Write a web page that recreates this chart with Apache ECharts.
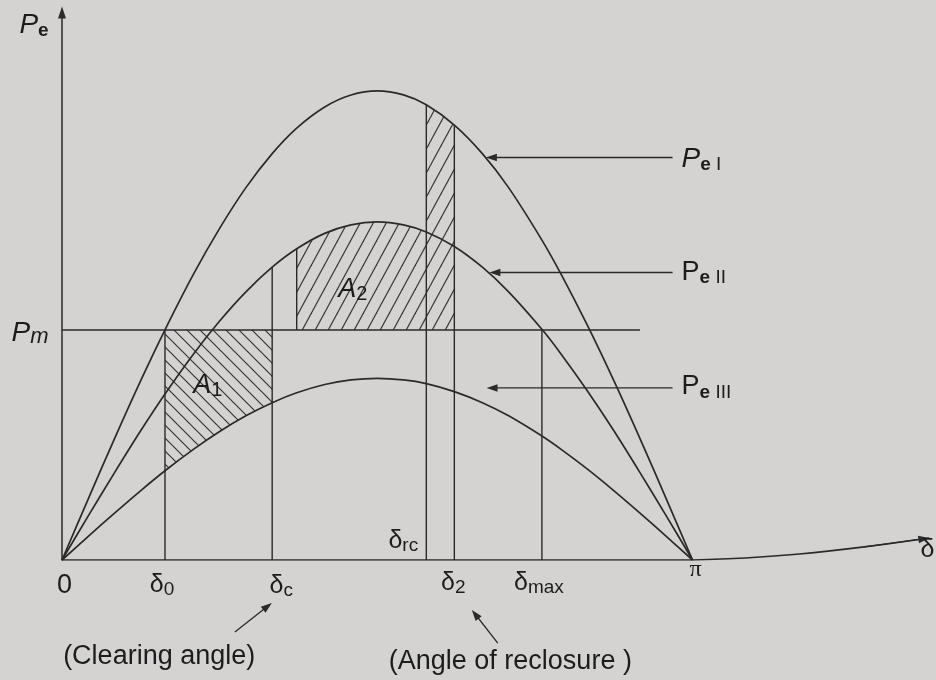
<!DOCTYPE html>
<html>
<head>
<meta charset="utf-8">
<script src="https://cdn.jsdelivr.net/npm/echarts@6/dist/echarts.min.js"></script>
<style>
  html, body { margin: 0; padding: 0; background: #d5d3d2; }
  #chart { width: 936px; height: 680px; }
</style>
</head>
<body>
<div id="chart"></div>
<script>
// Load angle δ (degrees) at which the power-angle curves are sampled
const angles = [0, 7.5, 15, 22.5, 29.4, 37.5, 45, 52.5, 60, 67, 75, 82.5, 90,
                97.5, 104, 112, 120, 127.5, 137, 142.5, 150, 157.5, 165, 172.5, 180];

// Electrical power, expressed in units of the mechanical input Pm
const peI   = [0, 0.266, 0.528, 0.781, 1.001, 1.242, 1.442, 1.619, 1.767, 1.878, 1.970, 2.022, 2.040,
               2.022, 1.979, 1.891, 1.767, 1.619, 1.391, 1.242, 1.020, 0.781, 0.528, 0.266, 0];
const peII  = [0, 0.192, 0.380, 0.563, 0.722, 0.895, 1.039, 1.166, 1.273, 1.353, 1.420, 1.457, 1.470,
               1.457, 1.426, 1.363, 1.273, 1.166, 1.003, 0.895, 0.735, 0.563, 0.380, 0.192, 0];
const peIII = [0, 0.103, 0.204, 0.302, 0.388, 0.481, 0.559, 0.627, 0.684, 0.727, 0.763, 0.783, 0.790,
               0.783, 0.767, 0.732, 0.684, 0.627, 0.539, 0.481, 0.395, 0.302, 0.204, 0.103, 0];

// Mechanical input line and where it stops
const pm = 1.0;
const pmEnd = 165;

// Characteristic angles (degrees)
const delta0 = 29.4, deltaC = 60, a2Start = 67, deltaRc = 104, delta2 = 112, deltaMax = 137;

// Angle axis labels
const tickAngles = [0, delta0, deltaC, delta2, deltaMax, 180];
const tickTexts = ['{t|0}', '{d|δ}{ds|0}', '{d|δ}{ds|c}', '{d|δ}{ds|2}', '{d|δ}{ds|max}', '{pi|π}'];

// Shape of the δ axis beyond π
const deltaAxisExt = [[180, 0], [195, 0.009], [210.5, 0.026], [229, 0.057], [247.6, 0.096]];

// Curve captions
const curveNames = ['{P|P}{e|e}{n| I}', '{Pu|P}{e|e}{n| II}', '{Pu|P}{e|e}{n| III}'];

// ---------------------------------------------------------------------------
const at = (curve, a) => curve[angles.indexOf(a)];
const ink = '#1c1c1c';
const lineInk = '#2a2a2a';
const sans = "'Liberation Sans', Arial, sans-serif";

// Hatch tiles
function hatchTile(w, h, dir) {
  const c = document.createElement('canvas');
  c.width = w; c.height = h;
  const ctx = c.getContext('2d');
  ctx.strokeStyle = '#363636';
  ctx.lineWidth = 1.2;
  for (let k = -1; k <= 1; k++) {
    ctx.beginPath();
    if (dir === 'fwd') {
      ctx.moveTo(k * w - w, 2 * h); ctx.lineTo(k * w + 2 * w, -h);
    } else {
      ctx.moveTo(k * w - w, -h); ctx.lineTo(k * w + 2 * w, 2 * h);
    }
    ctx.stroke();
  }
  return { image: c, repeat: 'repeat' };
}
const hatchBack = hatchTile(13, 13, 'back');
const hatchFwd = hatchTile(13, 24, 'fwd');

// Hatched areas: A1, A2 and the reclosure strip
const regions = [
  { from: delta0, to: deltaC, upper: pm, lower: peIII, fill: hatchBack },
  { from: a2Start, to: delta2, upper: peII, lower: pm, fill: hatchFwd },
  { from: deltaRc, to: delta2, upper: peI, lower: peII, fill: hatchFwd }
];
function edge(curve, a, b) {
  if (typeof curve === 'number') return [[a, curve], [b, curve]];
  return angles.filter(x => x >= a && x <= b).map(x => [x, at(curve, x)]);
}

// Vertical construction lines [angle, from, to]
const verticals = [
  [delta0, 0, pm],
  [deltaC, 0, at(peII, deltaC)],
  [a2Start, pm, at(peII, a2Start)],
  [deltaRc, 0, at(peI, deltaRc)],
  [delta2, 0, at(peI, delta2)],
  [deltaMax, 0, pm]
];

// Arrows [tailX, tailY, tipX, tipY]
const arrows = [
  [174.3, 1.75, 121.0, 1.75],
  [174.3, 1.25, 122.0, 1.25],
  [174.3, 0.748, 121.2, 0.748],
  [49.35, -0.313, 59.9, -0.187],
  [124.4, -0.361, 117.0, -0.217],
  [deltaAxisExt[3][0], deltaAxisExt[3][1], deltaAxisExt[4][0], deltaAxisExt[4][1]]
];

// Text labels
const labels = [];
function lab(x, y, text, dx, dy, align) {
  labels.push({ value: [x, y], label: { formatter: text, offset: [dx, dy], align: align || 'center' } });
}
const tickNudge = [[2.5, 26], [-3, 25], [9, 26], [-1, 23], [-3, 23], [3, 10]];
tickAngles.forEach((a, i) => lab(a, 0, tickTexts[i], tickNudge[i][0], tickNudge[i][1]));
lab(deltaRc, 0, '{d|δ}{ds|rc}', -23, -19);
lab(deltaAxisExt[4][0], deltaAxisExt[4][1], '{d|δ}', -2, 12);
lab(0, 2.38, '{P|P}{e|e}', -28, 13);
lab(0, pm, '{P|P}{m|m}', -32, 3);
lab(41.6, 0.757, '{A|A}{as|1}', 0, 0);
lab(83, 1.178, '{A|A}{as|2}', 0, 0);
lab(174.3, 1.75, curveNames[0], 9, 2, 'left');
lab(174.3, 1.25, curveNames[1], 9, 0, 'left');
lab(174.3, 0.748, curveNames[2], 9, -1, 'left');
lab(deltaC, 0, '{t|(Clearing angle)}', -113, 97);
lab(delta2, 0, '{t|(Angle of reclosure )}', 56, 102);

const xMax = 249.5, yMax = 2.38, pxPerDeg = 631 / 180, pxPerUnit = 230, baseY = 560;

const curve = (name, vals) => ({
  type: 'line', name, data: angles.map((a, i) => [a, vals[i]]),
  smooth: 0.3, showSymbol: false, symbol: 'none', z: 5, silent: true,
  lineStyle: { color: lineInk, width: 1.7 }
});

const chart = echarts.init(document.getElementById('chart'));
chart.setOption({
  animation: false,
  backgroundColor: '#d5d3d2',
  grid: { left: 62, top: baseY - yMax * pxPerUnit, width: xMax * pxPerDeg, height: yMax * pxPerUnit },
  xAxis: {
    type: 'value', min: 0, max: xMax,
    axisLine: { show: false }, axisTick: { show: false }, axisLabel: { show: false }, splitLine: { show: false }
  },
  yAxis: {
    type: 'value', min: 0, max: yMax,
    axisLine: { show: true, symbol: ['none', 'triangle'], symbolSize: [8, 12], lineStyle: { color: lineInk, width: 1.5 } },
    axisTick: { show: false }, axisLabel: { show: false }, splitLine: { show: false }
  },
  series: [
    {
      type: 'custom', z: 1, silent: true,
      data: regions.map(r => [r.from, 0]),
      renderItem: (params, api) => {
        const r = regions[params.dataIndex];
        const pts = edge(r.upper, r.from, r.to).concat(edge(r.lower, r.from, r.to).reverse())
          .map(p => api.coord(p));
        return { type: 'polygon', shape: { points: pts }, style: { fill: r.fill, stroke: null } };
      }
    },
    curve('Pe I', peI),
    curve('Pe II', peII),
    curve('Pe III', peIII),
    {
      type: 'line', data: [[0, pm], [pmEnd, pm]], showSymbol: false, symbol: 'none', silent: true, z: 4,
      lineStyle: { color: lineInk, width: 1.4 }
    },
    {
      type: 'line', data: [[0, 0], [180, 0]], showSymbol: false, symbol: 'none', silent: true, z: 4,
      lineStyle: { color: lineInk, width: 1.6 }
    },
    {
      type: 'line', data: deltaAxisExt, smooth: 0.4, showSymbol: false, symbol: 'none', silent: true, z: 4,
      lineStyle: { color: lineInk, width: 1.6 }
    },
    {
      type: 'custom', z: 4, silent: true,
      data: verticals.map(v => [v[0], v[1]]),
      renderItem: (params, api) => {
        const v = verticals[params.dataIndex];
        const p1 = api.coord([v[0], v[1]]), p2 = api.coord([v[0], v[2]]);
        return { type: 'line', shape: { x1: p1[0], y1: p1[1], x2: p2[0], y2: p2[1] },
                 style: { stroke: lineInk, lineWidth: 1.4 } };
      }
    },
    {
      type: 'custom', z: 6, silent: true,
      data: arrows.map(a => [a[2], a[3]]),
      renderItem: (params, api) => {
        const a = arrows[params.dataIndex];
        const p1 = api.coord([a[0], a[1]]), p2 = api.coord([a[2], a[3]]);
        const dx = p2[0] - p1[0], dy = p2[1] - p1[1], len = Math.hypot(dx, dy);
        const ux = dx / len, uy = dy / len, L = 11, W = 3.8;
        const bx = p2[0] - ux * L, by = p2[1] - uy * L;
        return {
          type: 'group', children: [
            { type: 'line', shape: { x1: p1[0], y1: p1[1], x2: bx + ux * 2, y2: by + uy * 2 },
              style: { stroke: lineInk, lineWidth: 1.3 } },
            { type: 'polygon', shape: { points: [[p2[0], p2[1]], [bx - uy * W, by + ux * W], [bx + uy * W, by - ux * W]] },
              style: { fill: lineInk } }
          ]
        };
      }
    },
    {
      type: 'scatter', z: 10, silent: true, clip: false, symbolSize: 0,
      itemStyle: { opacity: 1 },
      data: labels,
      label: {
        show: true, position: 'inside', color: ink, fontFamily: sans, fontSize: 26,
        textBorderWidth: 0,
        rich: {
          t: { fontSize: 27, fontFamily: sans, color: ink },
          d: { fontSize: 25, lineHeight: 28, fontFamily: sans, color: ink },
          ds: { fontSize: 19, lineHeight: 16, verticalAlign: 'bottom', fontFamily: sans, color: ink },
          pi: { fontSize: 24, fontFamily: "'Liberation Serif', serif", color: ink },
          P: { fontSize: 28, lineHeight: 30, fontStyle: 'italic', fontFamily: sans, color: ink },
          Pu: { fontSize: 27, lineHeight: 30, fontFamily: sans, color: ink },
          e: { fontSize: 19, lineHeight: 12, verticalAlign: 'bottom', fontWeight: 'bold', fontFamily: sans, color: ink },
          m: { fontSize: 22, lineHeight: 12, verticalAlign: 'bottom', fontStyle: 'italic', fontFamily: sans, color: ink },
          n: { fontSize: 19, lineHeight: 14, verticalAlign: 'bottom', fontFamily: sans, color: ink },
          A: { fontSize: 27, lineHeight: 30, fontStyle: 'italic', fontFamily: sans, color: ink },
          as: { fontSize: 20, lineHeight: 14, verticalAlign: 'bottom', fontFamily: sans, color: ink }
        }
      }
    }
  ]
});
</script>
</body>
</html>
